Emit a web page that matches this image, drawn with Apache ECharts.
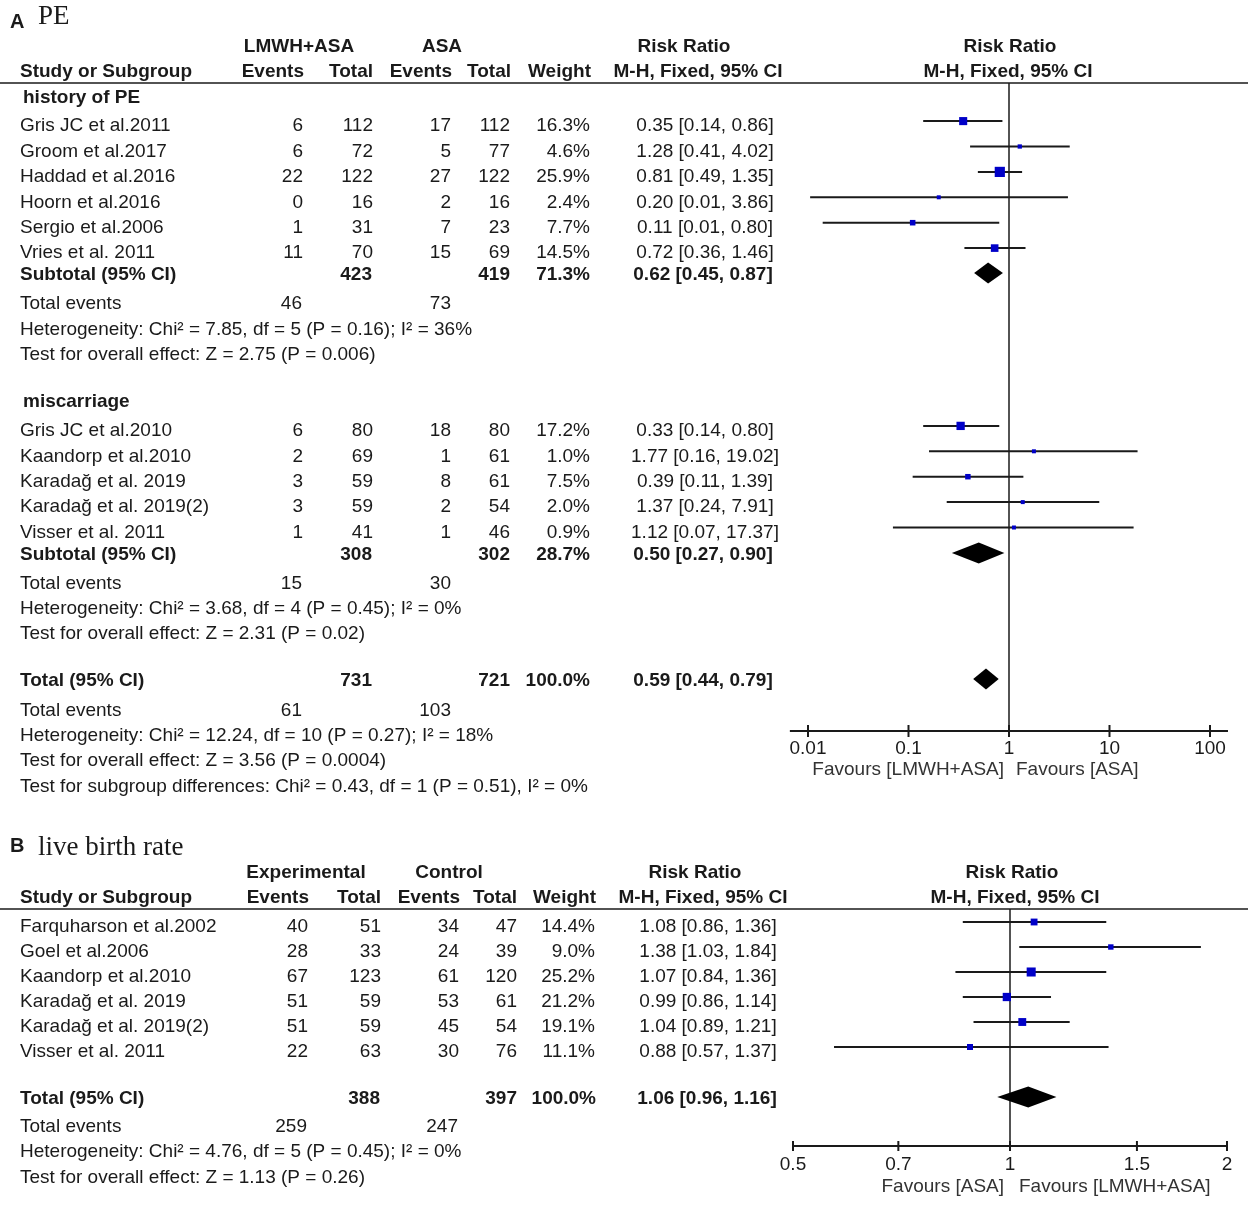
<!DOCTYPE html>
<html><head><meta charset="utf-8">
<script src="https://cdn.jsdelivr.net/npm/echarts@6/dist/echarts.min.js"></script>
<style>html,body{margin:0;padding:0;background:#fff}#c{width:1248px;height:1205px}</style>
</head><body><div id="c"></div>
<script>
// ---------------- DATA ----------------
// Panel A, subgroup 1: history of PE
const studiesA1 = ['Gris JC et al.2011','Groom et al.2017','Haddad et al.2016','Hoorn et al.2016','Sergio et al.2006','Vries et al. 2011'];
const evExpA1 = [6, 6, 22, 0, 1, 11];
const totExpA1 = [112, 72, 122, 16, 31, 70];
const evCtlA1 = [17, 5, 27, 2, 7, 15];
const totCtlA1 = [112, 77, 122, 16, 23, 69];
const weightA1 = [16.3, 4.6, 25.9, 2.4, 7.7, 14.5];
const rrA1 = [0.35, 1.28, 0.81, 0.20, 0.11, 0.72];
const loA1 = [0.14, 0.41, 0.49, 0.0105, 0.014, 0.36];
const hiA1 = [0.86, 4.02, 1.35, 3.86, 0.80, 1.46];
// Panel A, subgroup 2: miscarriage
const studiesA2 = ['Gris JC et al.2010','Kaandorp et al.2010','Karadağ et al. 2019','Karadağ et al. 2019(2)','Visser et al. 2011'];
const evExpA2 = [6, 2, 3, 3, 1];
const totExpA2 = [80, 69, 59, 59, 41];
const evCtlA2 = [18, 1, 8, 2, 1];
const totCtlA2 = [80, 61, 61, 54, 46];
const weightA2 = [17.2, 1.0, 7.5, 2.0, 0.9];
const rrA2 = [0.33, 1.77, 0.39, 1.37, 1.12];
const loA2 = [0.14, 0.16, 0.11, 0.24, 0.07];
const hiA2 = [0.80, 19.02, 1.39, 7.91, 17.37];
// Panel A pooled: [subgroup1, subgroup2, overall]
const pooledLabelsA = ['Subtotal (95% CI)', 'Subtotal (95% CI)', 'Total (95% CI)'];
const pooledTotExpA = [423, 308, 731];
const pooledTotCtlA = [419, 302, 721];
const pooledWeightA = [71.3, 28.7, 100.0];
const pooledRrA = [0.62, 0.50, 0.59];
const pooledLoA = [0.45, 0.27, 0.44];
const pooledHiA = [0.87, 0.90, 0.79];
const totEvExpA = [46, 15, 61];
const totEvCtlA = [73, 30, 103];
const chiA = ['7.85', '3.68', '12.24'];
const dfA = [5, 4, 10];
const pHetA = ['0.16', '0.45', '0.27'];
const i2A = [36, 0, 18];
const zA = ['2.75', '2.31', '3.56'];
const pZA = ['0.006', '0.02', '0.0004'];
const subgroupDiffA = 'Test for subgroup differences: Chi² = 0.43, df = 1 (P = 0.51), I² = 0%';
const ticksA = [0.01, 0.1, 1, 10, 100];
const tickLabelsA = ['0.01', '0.1', '1', '10', '100'];
const axisSpanA = [0.0066, 151];

// Panel B: live birth rate
const studiesB = ['Farquharson et al.2002','Goel et al.2006','Kaandorp et al.2010','Karadağ et al. 2019','Karadağ et al. 2019(2)','Visser et al. 2011'];
const evExpB = [40, 28, 67, 51, 51, 22];
const totExpB = [51, 33, 123, 59, 59, 63];
const evCtlB = [34, 24, 61, 53, 45, 30];
const totCtlB = [47, 39, 120, 61, 54, 76];
const weightB = [14.4, 9.0, 25.2, 21.2, 19.1, 11.1];
const rrB = [1.08, 1.38, 1.07, 0.99, 1.04, 0.88];
const loB = [0.86, 1.03, 0.84, 0.86, 0.89, 0.57];
const hiB = [1.36, 1.84, 1.36, 1.14, 1.21, 1.37];
const pooledB = {tot1: 388, tot2: 397, w: 100.0, rr: 1.06, lo: 0.96, hi: 1.16, ev1: 259, ev2: 247,
  chi: '4.76', df: 5, p: '0.45', i2: 0, z: '1.13', pz: '0.26'};
const ticksB = [0.5, 0.7, 1, 1.5, 2];
const tickLabelsB = ['0.5', '0.7', '1', '1.5', '2'];
const axisSpanB = [0.5, 2];

// ---------------- LAYOUT / STYLE ----------------
const SANS = "'Liberation Sans', Arial, Helvetica, sans-serif";
const SERIF = "'Liberation Serif', 'Times New Roman', serif";
const FS = 19;
const INK = '#1a1a1a';
const BLUE = '#0000c8';
const topA = 83, lhA = 25.4, hA = 648;
const topB = 909, lhB = 25, hB = 237;
const yA = l => topA + lhA * l;
const yB = l => topB + lhB * l;
const f2 = v => v.toFixed(2);
const ciStr = (r, l, h) => f2(r) + ' [' + f2(l) + ', ' + f2(h) + ']';
const pct = v => v.toFixed(1) + '%';

const G = [];
function T(x, y, s, align, bold, size, family, color) {
  align = align || 'left';
  G.push({type: 'text', silent: true, z: 10, style: {
    text: String(s), x: x, y: y, fill: color || INK,
    font: (bold ? 'bold ' : '') + (size || FS) + 'px ' + (family || SANS),
    textAlign: align, textVerticalAlign: 'middle', align: align, verticalAlign: 'middle'
  }});
}
function HL(x1, y1, x2, y2, w) {
  G.push({type: 'line', silent: true, shape: {x1: x1, y1: y1, x2: x2, y2: y2}, style: {stroke: INK, lineWidth: w || 1.5}});
}

// Panel A text
const cA = {name: 20, ev1: 303, tot1: 373, ev2: 451, tot2: 510, w: 590, ci: 705};
T(10, 22, 'A', 'left', true, 20);
T(38, 17, 'PE', 'left', false, 27, SERIF);
T(299, 47, 'LMWH+ASA', 'center', true);
T(442, 47, 'ASA', 'center', true);
T(684, 47, 'Risk Ratio', 'center', true);
T(1010, 47, 'Risk Ratio', 'center', true);
T(20, 72, 'Study or Subgroup', 'left', true);
T(304, 72, 'Events', 'right', true);
T(373, 72, 'Total', 'right', true);
T(452, 72, 'Events', 'right', true);
T(511, 72, 'Total', 'right', true);
T(591, 72, 'Weight', 'right', true);
T(698, 72, 'M-H, Fixed, 95% CI', 'center', true);
T(1008, 72, 'M-H, Fixed, 95% CI', 'center', true);
HL(0, topA, 1248, topA, 1.5);

const groupsA = [
  {title: 'history of PE', titleL: 0.6, start: 1.5, names: studiesA1, e1: evExpA1, t1: totExpA1, e2: evCtlA1, t2: totCtlA1, w: weightA1, rr: rrA1, lo: loA1, hi: hiA1},
  {title: 'miscarriage', titleL: 12.55, start: 13.5, names: studiesA2, e1: evExpA2, t1: totExpA2, e2: evCtlA2, t2: totCtlA2, w: weightA2, rr: rrA2, lo: loA2, hi: hiA2}
];
const studyMarksA = [];
const pooledMarksA = [];
groupsA.forEach((g) => {
  T(23, yA(g.titleL), g.title, 'left', true);
  g.names.forEach((n, i) => {
    const L = g.start + i, y = yA(L) + 5;
    T(cA.name, y, n);
    T(cA.ev1, y, g.e1[i], 'right');
    T(cA.tot1, y, g.t1[i], 'right');
    T(cA.ev2, y, g.e2[i], 'right');
    T(cA.tot2, y, g.t2[i], 'right');
    T(cA.w, y, pct(g.w[i]), 'right');
    T(cA.ci, y, ciStr(g.rr[i], g.lo[i], g.hi[i]), 'center');
    studyMarksA.push([g.rr[i], g.lo[i], g.hi[i], L, g.w[i]]);
  });
});
const pooledLinesA = [7.48, 18.5, 23.46];
const statLinesA = [8.7, 19.7, 24.7];
pooledLabelsA.forEach((lab, k) => {
  const y = yA(pooledLinesA[k]) + 2;
  T(cA.name, y, lab, 'left', true);
  T(cA.tot1 - 1, y, pooledTotExpA[k], 'right', true);
  T(cA.tot2, y, pooledTotCtlA[k], 'right', true);
  T(cA.w, y, pct(pooledWeightA[k]), 'right', true);
  T(cA.ci - 2, y, ciStr(pooledRrA[k], pooledLoA[k], pooledHiA[k]), 'center', true);
  pooledMarksA.push([pooledRrA[k], pooledLoA[k], pooledHiA[k], pooledLinesA[k]]);
  const s = statLinesA[k];
  T(cA.name, yA(s), 'Total events');
  T(cA.ev1 - 1, yA(s), totEvExpA[k], 'right');
  T(cA.ev2, yA(s), totEvCtlA[k], 'right');
  T(cA.name, yA(s + 1), 'Heterogeneity: Chi² = ' + chiA[k] + ', df = ' + dfA[k] + ' (P = ' + pHetA[k] + '); I² = ' + i2A[k] + '%');
  T(cA.name, yA(s + 2), 'Test for overall effect: Z = ' + zA[k] + ' (P = ' + pZA[k] + ')');
});
T(cA.name, yA(27.7), subgroupDiffA);
T(1004, 770, 'Favours [LMWH+ASA]', 'right', false, FS, SANS, '#333');
T(1016, 770, 'Favours [ASA]', 'left', false, FS, SANS, '#333');

// Panel B text
const cB = {name: 20, ev1: 308, tot1: 381, ev2: 459, tot2: 517, w: 595, ci: 708};
T(10, 846, 'B', 'left', true, 20);
T(38, 848, 'live birth rate', 'left', false, 27, SERIF);
T(306, 873, 'Experimental', 'center', true);
T(449, 873, 'Control', 'center', true);
T(695, 873, 'Risk Ratio', 'center', true);
T(1012, 873, 'Risk Ratio', 'center', true);
T(20, 898, 'Study or Subgroup', 'left', true);
T(309, 898, 'Events', 'right', true);
T(381, 898, 'Total', 'right', true);
T(460, 898, 'Events', 'right', true);
T(517, 898, 'Total', 'right', true);
T(596, 898, 'Weight', 'right', true);
T(703, 898, 'M-H, Fixed, 95% CI', 'center', true);
T(1015, 898, 'M-H, Fixed, 95% CI', 'center', true);
HL(0, topB, 1248, topB, 1.5);
const studyMarksB = [];
studiesB.forEach((n, i) => {
  const L = 0.52 + i, y = yB(L) + 5;
  T(cB.name, y, n);
  T(cB.ev1, y, evExpB[i], 'right');
  T(cB.tot1, y, totExpB[i], 'right');
  T(cB.ev2, y, evCtlB[i], 'right');
  T(cB.tot2, y, totCtlB[i], 'right');
  T(cB.w, y, pct(weightB[i]), 'right');
  T(cB.ci, y, ciStr(rrB[i], loB[i], hiB[i]), 'center');
  studyMarksB.push([rrB[i], loB[i], hiB[i], L, weightB[i]]);
});
const pooledLineB = 7.52;
{
  const y = yB(pooledLineB) + 2;
  T(cB.name, y, 'Total (95% CI)', 'left', true);
  T(cB.tot1 - 1, y, pooledB.tot1, 'right', true);
  T(cB.tot2, y, pooledB.tot2, 'right', true);
  T(cB.w + 1, y, pct(pooledB.w), 'right', true);
  T(cB.ci - 1, y, ciStr(pooledB.rr, pooledB.lo, pooledB.hi), 'center', true);
  T(cB.name, yB(8.72), 'Total events');
  T(cB.ev1 - 1, yB(8.72), pooledB.ev1, 'right');
  T(cB.ev2 - 1, yB(8.72), pooledB.ev2, 'right');
  T(cB.name, yB(9.72), 'Heterogeneity: Chi² = ' + pooledB.chi + ', df = ' + pooledB.df + ' (P = ' + pooledB.p + '); I² = ' + pooledB.i2 + '%');
  T(cB.name, yB(10.76), 'Test for overall effect: Z = ' + pooledB.z + ' (P = ' + pooledB.pz + ')');
}
T(1004, 1187, 'Favours [ASA]', 'right', false, FS, SANS, '#333');
T(1019, 1187, 'Favours [LMWH+ASA]', 'left', false, FS, SANS, '#333');

// ---------------- RENDERERS ----------------
function studyRenderer(k) {
  return function (params, api) {
    const L = api.value(3);
    const p = api.coord([api.value(0), L]);
    const a = api.coord([api.value(1), L]);
    const b = api.coord([api.value(2), L]);
    const s = Math.max(4, k * Math.sqrt(api.value(4)));
    return {type: 'group', children: [
      {type: 'line', shape: {x1: a[0], y1: a[1], x2: b[0], y2: b[1]}, style: {stroke: INK, lineWidth: 2}},
      {type: 'rect', shape: {x: p[0] - s / 2, y: p[1] - s / 2, width: s, height: s}, style: {fill: BLUE}}
    ]};
  };
}
function diamondRenderer(params, api) {
  const L = api.value(3);
  const p = api.coord([api.value(0), L]);
  const a = api.coord([api.value(1), L]);
  const b = api.coord([api.value(2), L]);
  const h = 10.5;
  return {type: 'polygon', shape: {points: [[a[0], p[1]], [p[0], p[1] - h], [b[0], p[1]], [p[0], p[1] + h]]}, style: {fill: '#000'}};
}
function vlineRenderer(params, api) {
  const a = api.coord([api.value(0), api.value(1)]);
  const b = api.coord([api.value(0), api.value(2)]);
  return {type: 'line', shape: {x1: a[0], y1: a[1], x2: b[0], y2: b[1]}, style: {stroke: INK, lineWidth: 1.5}};
}
function axisLineRenderer(params, api) {
  const a = api.coord([api.value(0), api.value(2)]);
  const b = api.coord([api.value(1), api.value(2)]);
  return {type: 'line', shape: {x1: a[0], y1: a[1], x2: b[0], y2: b[1]}, style: {stroke: INK, lineWidth: 2}};
}
function tickRenderer(labels, tl, off) {
  return function (params, api) {
    const p = api.coord([api.value(0), api.value(1)]);
    return {type: 'group', children: [
      {type: 'line', shape: {x1: p[0], y1: p[1] - tl, x2: p[0], y2: p[1] + tl}, style: {stroke: INK, lineWidth: 2}},
      {type: 'text', style: {text: labels[params.dataIndex], x: p[0], y: p[1] + off, fill: INK, font: FS + 'px ' + SANS,
        textAlign: 'center', textVerticalAlign: 'middle', align: 'center', verticalAlign: 'middle'}}
    ]};
  };
}

const yMaxA = hA / lhA, yMaxB = hB / lhB;
const base = {type: 'custom', silent: true, clip: false, animation: false};
const option = {
  backgroundColor: '#fff',
  animation: false,
  grid: [
    {left: 808, width: 402, top: topA, height: hA},
    {left: 793, width: 434, top: topB, height: hB}
  ],
  xAxis: [
    {gridIndex: 0, type: 'log', logBase: 10, min: 0.01, max: 100, show: false},
    {gridIndex: 1, type: 'log', logBase: 10, min: 0.5, max: 2, show: false}
  ],
  yAxis: [
    {gridIndex: 0, type: 'value', inverse: true, min: 0, max: yMaxA, show: false},
    {gridIndex: 1, type: 'value', inverse: true, min: 0, max: yMaxB, show: false}
  ],
  graphic: {elements: G},
  series: [
    Object.assign({}, base, {xAxisIndex: 0, yAxisIndex: 0, renderItem: vlineRenderer, data: [[1, 0, yMaxA]]}),
    Object.assign({}, base, {xAxisIndex: 0, yAxisIndex: 0, renderItem: axisLineRenderer, data: [[axisSpanA[0], axisSpanA[1], yMaxA]]}),
    Object.assign({}, base, {xAxisIndex: 0, yAxisIndex: 0, renderItem: tickRenderer(tickLabelsA, 6, 18), data: ticksA.map(v => [v, yMaxA])}),
    Object.assign({}, base, {xAxisIndex: 0, yAxisIndex: 0, renderItem: studyRenderer(2.0), data: studyMarksA}),
    Object.assign({}, base, {xAxisIndex: 0, yAxisIndex: 0, renderItem: diamondRenderer, data: pooledMarksA}),
    Object.assign({}, base, {xAxisIndex: 1, yAxisIndex: 1, renderItem: vlineRenderer, data: [[1, 0, yMaxB]]}),
    Object.assign({}, base, {xAxisIndex: 1, yAxisIndex: 1, renderItem: axisLineRenderer, data: [[axisSpanB[0], axisSpanB[1], yMaxB]]}),
    Object.assign({}, base, {xAxisIndex: 1, yAxisIndex: 1, renderItem: tickRenderer(tickLabelsB, 5, 19), data: ticksB.map(v => [v, yMaxB])}),
    Object.assign({}, base, {xAxisIndex: 1, yAxisIndex: 1, renderItem: studyRenderer(1.8), data: studyMarksB}),
    Object.assign({}, base, {xAxisIndex: 1, yAxisIndex: 1, renderItem: diamondRenderer, data: [[pooledB.rr, pooledB.lo, pooledB.hi, pooledLineB]]})
  ]
};
const chart = echarts.init(document.getElementById('c'));
chart.setOption(option);
</script>
</body></html>
